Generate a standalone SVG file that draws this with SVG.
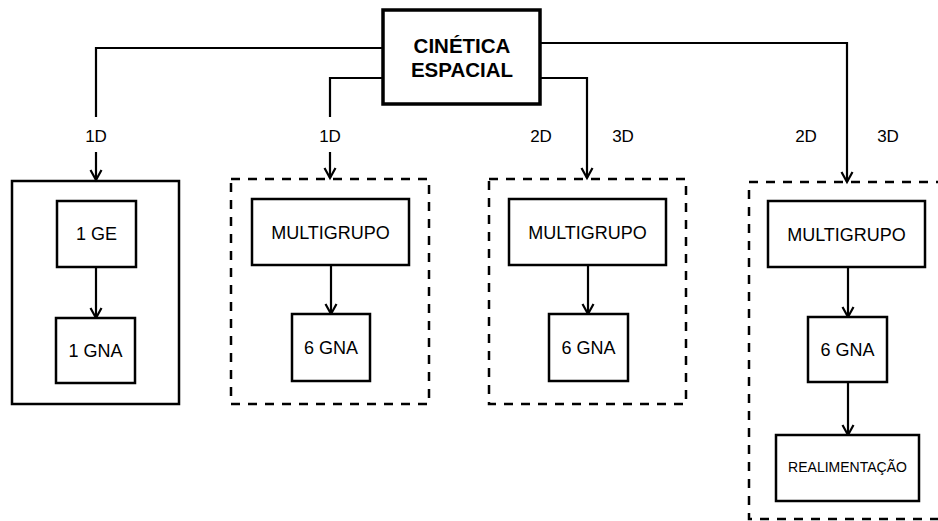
<svg xmlns="http://www.w3.org/2000/svg" width="938" height="521" viewBox="0 0 938 521">
<defs>
<style>
.bg{fill:#fff}
.box{fill:#fff;stroke:#000;stroke-width:2.5}
.title{fill:#fff;stroke:#000;stroke-width:3.5}
.dash{fill:none;stroke:#000;stroke-width:2.5;stroke-dasharray:9 8}
.outer{fill:none;stroke:#000;stroke-width:2.5}
.conn{fill:none;stroke:#000;stroke-width:2.2}
.t{font-family:"Liberation Sans",Arial,sans-serif;font-size:18px;fill:#000;text-anchor:middle}
.lbl{font-family:"Liberation Sans",Arial,sans-serif;font-size:17px;fill:#000;text-anchor:middle}
.tb{font-family:"Liberation Sans",Arial,sans-serif;font-size:20.5px;font-weight:bold;fill:#000;text-anchor:middle}
.small{font-family:"Liberation Sans",Arial,sans-serif;font-size:14px;fill:#000;text-anchor:middle}
</style>
<marker id="arr" markerUnits="userSpaceOnUse" viewBox="-12 -7 14 14" refX="0" refY="0" markerWidth="14" markerHeight="14" orient="auto" overflow="visible">
<path d="M-10,-5.5 L0,0 L-10,5.5" fill="none" stroke="#000" stroke-width="2.2"/>
</marker>
</defs>
<rect class="bg" x="0" y="0" width="938" height="521"/>

<g id="group-1d-a">
<rect class="outer" x="12" y="181" width="167" height="223"/>
</g>
<g id="group-1d-b">
<rect class="dash" x="231" y="179" width="198" height="225"/>
</g>
<g id="group-2d3d-a">
<rect class="dash" x="489" y="179" width="197" height="225"/>
</g>
<g id="group-2d3d-b">
<path class="dash" d="M945,182 H749 V519 H945"/>
</g>

<g id="connectors">
<polyline class="conn" points="383,48 96,48 96,117"/>
<line class="conn" x1="96" y1="152" x2="96" y2="180" marker-end="url(#arr)"/>
<polyline class="conn" points="383,78 330,78 330,117"/>
<line class="conn" x1="330" y1="152" x2="330" y2="178" marker-end="url(#arr)"/>
<polyline class="conn" points="541,78 587,78 587,178" marker-end="url(#arr)"/>
<polyline class="conn" points="541,43 847,43 847,182" marker-end="url(#arr)"/>
<line class="conn" x1="96" y1="267" x2="96" y2="318" marker-end="url(#arr)"/>
<line class="conn" x1="331" y1="265" x2="331" y2="314" marker-end="url(#arr)"/>
<line class="conn" x1="588" y1="265" x2="588" y2="314" marker-end="url(#arr)"/>
<line class="conn" x1="848" y1="267" x2="848" y2="317" marker-end="url(#arr)"/>
<line class="conn" x1="848" y1="382" x2="848" y2="435" marker-end="url(#arr)"/>
<text class="lbl" x="96" y="142">1D</text>
<text class="lbl" x="330" y="142">1D</text>
<text class="lbl" x="541" y="142">2D</text>
<text class="lbl" x="623" y="142">3D</text>
<text class="lbl" x="806" y="142">2D</text>
<text class="lbl" x="888" y="142">3D</text>
</g>

<g id="cinetica">
<rect class="title" x="383" y="10" width="157" height="94"/>
<text class="tb" x="462" y="53">CINÉTICA</text>
<text class="tb" x="462" y="77">ESPACIAL</text>
</g>

<g id="ge1">
<rect class="box" x="57" y="201" width="79" height="66"/>
<text class="t" x="96.5" y="240">1 GE</text>
</g>
<g id="gna1">
<rect class="box" x="56" y="318" width="79" height="65"/>
<text class="t" x="95.5" y="357">1 GNA</text>
</g>

<g id="multi-a">
<rect class="box" x="252" y="199" width="157" height="66"/>
<text class="t" x="330.5" y="238.5">MULTIGRUPO</text>
</g>
<g id="gna6-a">
<rect class="box" x="292" y="314" width="78" height="67"/>
<text class="t" x="331" y="354">6 GNA</text>
</g>

<g id="multi-b">
<rect class="box" x="509" y="199" width="157" height="66"/>
<text class="t" x="587.5" y="238.5">MULTIGRUPO</text>
</g>
<g id="gna6-b">
<rect class="box" x="549" y="314" width="79" height="67"/>
<text class="t" x="588.5" y="354">6 GNA</text>
</g>

<g id="multi-c">
<rect class="box" x="768" y="201" width="157" height="66"/>
<text class="t" x="846.5" y="240.5">MULTIGRUPO</text>
</g>
<g id="gna6-c">
<rect class="box" x="808" y="317" width="79" height="65"/>
<text class="t" x="847.5" y="356">6 GNA</text>
</g>
<g id="realimentacao">
<rect class="box" x="776" y="435" width="143" height="66"/>
<text class="small" x="847.5" y="472">REALIMENTAÇÃO</text>
</g>
</svg>
